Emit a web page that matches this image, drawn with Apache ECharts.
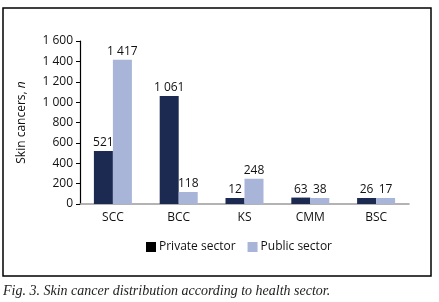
<!DOCTYPE html>
<html>
<head>
<meta charset="utf-8">
<script src="https://cdn.jsdelivr.net/npm/echarts@6/dist/echarts.min.js"></script>
<style>
  html, body { margin: 0; padding: 0; background: #fff; }
  #chart { width: 439px; height: 302px; }
</style>
</head>
<body>
<div id="chart"></div>
<script>
var categories = ['SCC', 'BCC', 'KS', 'CMM', 'BSC'];
var privateSector = [521, 1061, 12, 63, 26];
var publicSector = [1417, 118, 248, 38, 17];

// thousands with a space, like the journal figure
function fmt(v) {
    return String(v).replace(/\B(?=(\d{3})+(?!\d))/g, ' ');
}

var font = 'Open Sans';
var chart = echarts.init(document.getElementById('chart'));

var barLabel = {
    show: true,
    position: 'top',
    distance: 2,
    fontSize: 12,
    color: '#111',
    formatter: function (p) { return fmt(p.value); }
};

var option = {
    animation: false,
    textStyle: { fontFamily: font },
    grid: {
        left: 80,
        right: 30,
        top: 41,
        bottom: 98
    },
    legend: {
        data: [
            { name: 'Private sector', itemStyle: { color: '#000' } },
            { name: 'Public sector' }
        ],
        top: 236,
        left: 141,
        itemWidth: 10,
        itemHeight: 10,
        itemGap: 12,
        icon: 'rect',
        textStyle: { fontSize: 12, color: '#111', padding: [0, 0, 0, -2] }
    },
    xAxis: {
        type: 'category',
        data: categories,
        axisLine: { lineStyle: { color: '#9a9a9a', width: 1.5 } },
        axisTick: { length: 5, lineStyle: { color: '#000' } },
        axisLabel: { fontSize: 12, color: '#111', margin: 8 }
    },
    yAxis: {
        type: 'value',
        min: 0,
        max: 1600,
        interval: 200,
        name: '{a|Skin cancers, }{b|n}',
        nameLocation: 'middle',
        nameGap: 52,
        nameTextStyle: {
            fontSize: 12,
            color: '#111',
            rich: {
                a: { fontSize: 12, color: '#111', fontFamily: font },
                b: { fontSize: 12, color: '#111', fontFamily: font, fontStyle: 'italic' }
            }
        },
        splitLine: { show: false },
        axisLine: { show: true, lineStyle: { color: '#000', width: 1.2 } },
        axisTick: { show: true, length: 4, lineStyle: { color: '#000' } },
        axisLabel: { fontSize: 12, color: '#111', margin: 7, formatter: fmt }
    },
    series: [
        {
            name: 'Private sector',
            type: 'bar',
            data: privateSector,
            barWidth: 19,
            barGap: '0%',
            barMinHeight: 6,
            itemStyle: { color: '#1c2951' },
            label: barLabel
        },
        {
            name: 'Public sector',
            type: 'bar',
            data: publicSector,
            barWidth: 19,
            barMinHeight: 6,
            itemStyle: { color: '#a8b5d9' },
            label: barLabel
        }
    ],
    graphic: [
        {
            type: 'rect',
            shape: { x: 3, y: 8, width: 428, height: 268 },
            style: { fill: null, stroke: '#000', lineWidth: 1.5 },
            silent: true
        },
        {
            type: 'text',
            left: 3,
            top: 284,
            style: {
                text: 'Fig. 3. Skin cancer distribution according to health sector.',
                font: 'italic 14px "Liberation Serif"',
                fill: '#222'
            }
        }
    ]
};

chart.setOption(option);
</script>
</body>
</html>
